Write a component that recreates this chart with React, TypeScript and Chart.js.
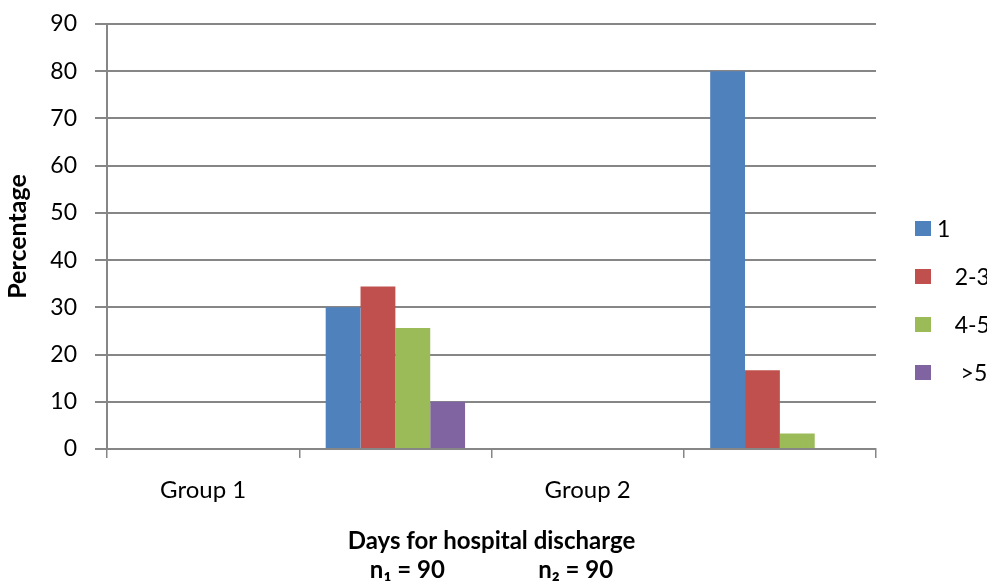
import React, { useEffect, useRef } from "react";
import { Chart, registerables } from "chart.js";

Chart.register(...registerables);

// ---- data ----
const categories = ["Group 1", "", "Group 2", ""];
const seriesLabels = ["1", "   2-3", "   4-5", "    >5"];
const values1 = [0, 30, 0, 80];
const values23 = [0, 34.4, 0, 16.7];
const values45 = [0, 25.6, 0, 3.3];
const valuesOver5 = [0, 10, 0, 0];
const seriesColors = ["#4F81BD", "#C0504D", "#9BBB59", "#8064A2"];
const yMin = 0;
const yMax = 90;
const yStep = 10;
const yTitle = "Percentage";
const xTitleLines = ["Days for hospital discharge", "n\u2081 = 90                n\u2082 = 90"];

const GRID = "#868686";
const FONT = "Lato, 'Open Sans', sans-serif";

const sideLegend = {
  id: "sideLegend",
  afterDraw(chart: any) {
    const { ctx, chartArea } = chart;
    const x0 = chartArea.right + 39;
    const y0 = 228.5;
    const step = 48;
    ctx.save();
    chart.data.datasets.forEach((ds: any, i: number) => {
      const y = y0 + i * step;
      ctx.fillStyle = ds.backgroundColor;
      ctx.fillRect(x0, y - 7.5, 16, 15);
      ctx.fillStyle = "#000";
      ctx.font = `23px ${FONT}`;
      ctx.textBaseline = "middle";
      ctx.textAlign = "left";
      ctx.fillText(ds.label, x0 + 22, y + 1);
    });
    ctx.restore();
  },
};

export default function App() {
  const ref = useRef<HTMLCanvasElement | null>(null);

  useEffect(() => {
    if (!ref.current) return;
    const allValues = [values1, values23, values45, valuesOver5];
    const chart = new Chart(ref.current, {
      type: "bar",
      data: {
        labels: categories,
        datasets: allValues.map((v, i) => ({
          label: seriesLabels[i],
          data: v,
          backgroundColor: seriesColors[i],
          borderWidth: 0,
          categoryPercentage: 0.725,
          barPercentage: 1,
        })),
      },
      options: {
        responsive: false,
        animation: false,
        devicePixelRatio: 1,
        layout: { padding: { top: 24, right: 111, left: 0, bottom: 0 } },
        plugins: {
          legend: { display: false },
          tooltip: { enabled: false },
        },
        scales: {
          x: {
            offset: true,
            grid: {
              display: true,
              offset: true,
              drawOnChartArea: false,
              drawTicks: true,
              tickLength: 9,
              color: GRID,
              lineWidth: 1.5,
            },
            border: { display: true, color: GRID, width: 2 },
            ticks: {
              color: "#000",
              font: { family: FONT, size: 24 },
              padding: 18,
              maxRotation: 0,
              autoSkip: false,
            },
            title: {
              display: true,
              text: xTitleLines,
              color: "#000",
              font: { family: FONT, size: 24, weight: "bold", lineHeight: 1.21 },
              padding: { top: 0, bottom: -1.5 },
            },
            afterFit(scale: any) {
              scale.height = 134;
              scale.paddingLeft = 0;
              scale.paddingRight = 0;
            },
          },
          y: {
            min: yMin,
            max: yMax,
            ticks: {
              stepSize: yStep,
              color: "#000",
              font: { family: FONT, size: 23 },
              padding: 18,
            },
            grid: {
              color: GRID,
              lineWidth: 2,
              drawTicks: true,
              tickLength: 12,
            },
            border: { display: true, color: GRID, width: 2 },
            title: {
              display: true,
              text: yTitle,
              color: "#000",
              font: { family: FONT, size: 25, weight: "bold", lineHeight: 1.2 },
              padding: { top: 3, bottom: 0 },
            },
            afterFit(scale: any) {
              scale.width = 107;
              scale.paddingTop = 0;
              scale.paddingBottom = 0;
            },
          },
        },
      },
      plugins: [sideLegend],
    });
    return () => chart.destroy();
  }, []);

  return (
    <div
      style={{
        position: "fixed",
        left: 0,
        top: 0,
        width: 987,
        height: 583,
        overflow: "hidden",
        background: "#fff",
      }}
    >
      <canvas ref={ref} width={987} height={583} style={{ display: "block" }} />
    </div>
  );
}
